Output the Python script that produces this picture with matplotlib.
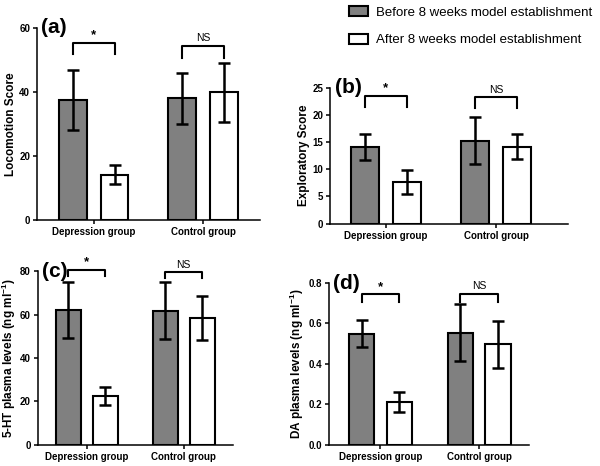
import matplotlib

matplotlib.use("Agg")
import matplotlib.pyplot as plt
import numpy as np
from matplotlib.patches import Patch

plt.rcParams["font.family"] = ["Liberation Sans", "DejaVu Sans"]
plt.rcParams["mathtext.fontset"] = "custom"
plt.rcParams["mathtext.rm"] = "Liberation Sans"
plt.rcParams["mathtext.bf"] = "Liberation Sans:bold"

groups = ["Depression group", "Control group"]
series = ["Before 8 weeks model establishment", "After 8 weeks model establishment"]

# (a) locomotion
loco_before = [37.5, 38.0]
loco_before_err = [9.5, 8.0]
loco_after = [14.1, 39.9]
loco_after_err = [3.0, 9.3]

# (b) exploratory
expl_before = [14.15, 15.25]
expl_before_err = [2.4, 4.3]
expl_after = [7.6, 14.15]
expl_after_err = [2.2, 2.3]

# (c) 5-HT
ht_before = [62.2, 61.9]
ht_before_err = [12.9, 13.0]
ht_after = [22.4, 58.5]
ht_after_err = [4.3, 10.0]

# (d) DA
da_before = [0.55, 0.555]
da_before_err = [0.067, 0.14]
da_after = [0.212, 0.497]
da_after_err = [0.051, 0.117]

sig_labels = ["*", "NS"]

panels = [
    dict(tag="(a)", ylabel="Locomotion Score", before=loco_before, before_err=loco_before_err,
         after=loco_after, after_err=loco_after_err, ylim=(0, 60), yticks=[0, 20, 40, 60],
         fmt="{:.0f}", bracket=[55.4, 54.3], leg=3.6, rect=[0.0617, 0.528, 0.3713, 0.412],
         xlim=(-0.52, 1.52)),
    dict(tag="(b)", ylabel="Exploratory Score", before=expl_before, before_err=expl_before_err,
         after=expl_after, after_err=expl_after_err, ylim=(0, 25), yticks=[0, 5, 10, 15, 20, 25],
         fmt="{:.0f}", bracket=[23.5, 23.3], leg=2.1, rect=[0.55, 0.520, 0.397, 0.292],
         xlim=(-0.506, 1.653)),
    dict(tag="(c)", ylabel="5-HT plasma levels (ng ml$^{\\mathbf{-1}}$)", before=ht_before,
         before_err=ht_before_err, after=ht_after, after_err=ht_after_err, ylim=(0, 80),
         yticks=[0, 20, 40, 60, 80], fmt="{:.0f}", bracket=[80.5, 79.6], leg=2.5,
         rect=[0.0628, 0.0457, 0.325, 0.372], xlim=(-0.508, 1.505)),
    dict(tag="(d)", ylabel="DA plasma levels (ng ml$^{\\mathbf{-1}}$)", before=da_before,
         before_err=da_before_err, after=da_after, after_err=da_after_err, ylim=(0, 0.8),
         yticks=[0.0, 0.2, 0.4, 0.6, 0.8], fmt="{:.1f}", bracket=[0.744, 0.747], leg=0.04,
         rect=[0.548, 0.0457, 0.333, 0.347], xlim=(-0.523, 1.50)),
]

fig = plt.figure(figsize=(6, 4.66), dpi=100)
x = np.arange(len(groups))
width = 0.255
off = 0.19
bar_kw = dict(width=width, edgecolor="black", linewidth=1.5, zorder=2)
err_kw = dict(fmt="none", ecolor="black", elinewidth=1.8, capsize=4.5, capthick=1.8, zorder=3)

for p in panels:
    ax = fig.add_axes(p["rect"])
    ax.bar(x - off, p["before"], color="#808080", **bar_kw)
    ax.bar(x + off, p["after"], color="white", **bar_kw)
    ax.errorbar(x - off, p["before"], yerr=p["before_err"], **err_kw)
    ax.errorbar(x + off, p["after"], yerr=p["after_err"], **err_kw)

    ax.set_xlim(*p["xlim"])
    ax.set_ylim(*p["ylim"])
    ax.set_xticks(x, groups, fontsize=7, fontweight="bold")
    ax.set_yticks(p["yticks"], [p["fmt"].format(v) for v in p["yticks"]],
                  fontsize=7, fontweight="bold")
    ax.tick_params(direction="out", length=3, width=1.1, pad=2)
    ax.set_ylabel(p["ylabel"], fontsize=8.5, fontweight="bold", labelpad=1.5)
    for s in ("top", "right"):
        ax.spines[s].set_visible(False)
    for s in ("left", "bottom"):
        ax.spines[s].set_linewidth(1.1)

    for i, lab in enumerate(sig_labels):
        yb = p["bracket"][i]
        xs = [x[i] - off, x[i] - off, x[i] + off, x[i] + off]
        ys = [yb - p["leg"], yb, yb, yb - p["leg"]]
        ax.plot(xs, ys, color="black", lw=1.5, clip_on=False, zorder=4)
        if lab == "*":
            ax.text(x[i], yb + p["ylim"][1] * 0.01, lab, ha="center", va="bottom",
                    fontsize=9.5, fontweight="bold", clip_on=False)
        else:
            ax.text(x[i], yb + p["ylim"][1] * 0.015, lab, ha="center", va="bottom",
                    fontsize=7.5, clip_on=False)

    ax.text(0.02, 1.0, p["tag"], transform=ax.transAxes, fontsize=15,
            fontweight="bold", ha="left", va="center")

handles = [Patch(facecolor="#808080", edgecolor="black", linewidth=1.5),
           Patch(facecolor="white", edgecolor="black", linewidth=1.5)]
fig.legend(handles, series, loc="upper left", bbox_to_anchor=(0.562, 1.012),
           frameon=False, fontsize=9.5, handlelength=1.45, handleheight=0.75,
           handletextpad=0.6, labelspacing=1.15)

fig.savefig("out.png", dpi=100)
